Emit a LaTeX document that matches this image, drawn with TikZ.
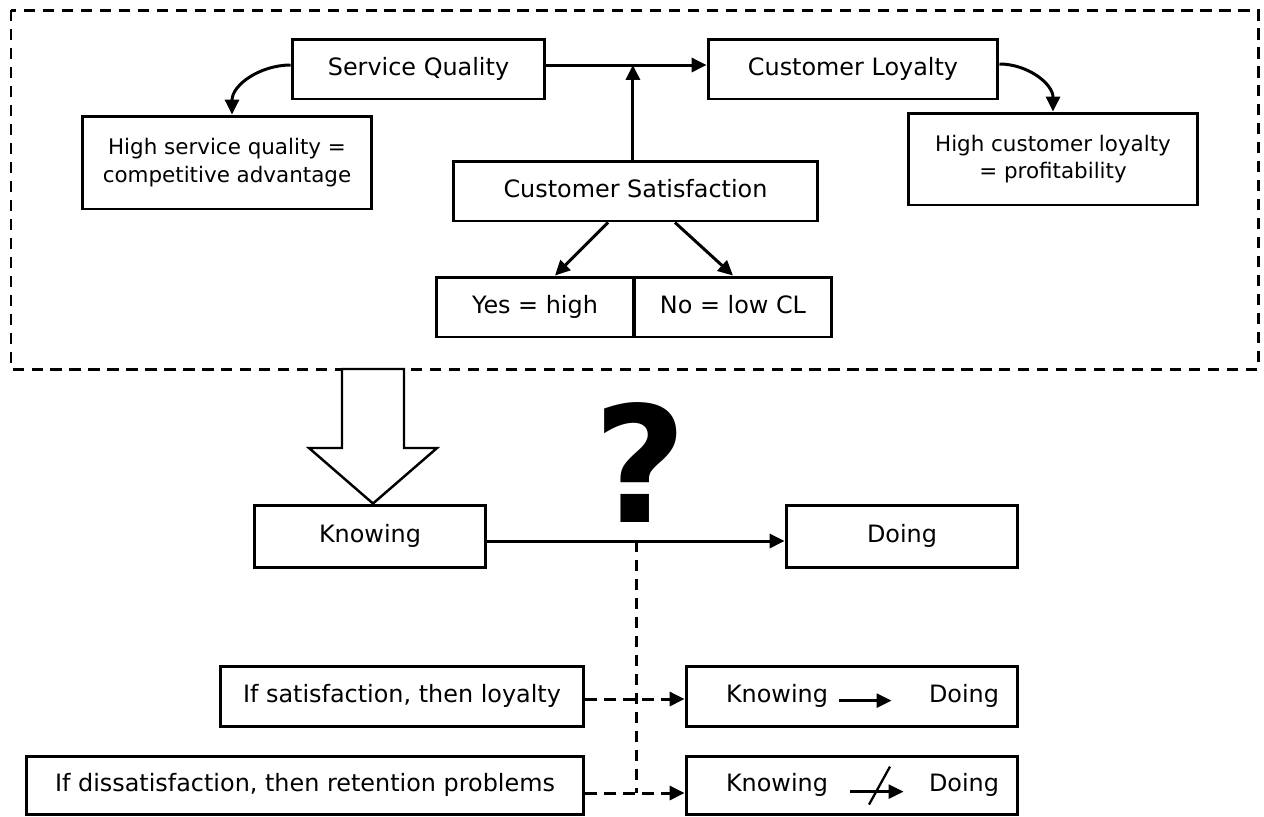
\documentclass[tikz,border=0pt]{standalone}
\usepackage{fontspec}
\setmainfont{DejaVu Sans}
\usetikzlibrary{arrows.meta}

\begin{document}
\begin{tikzpicture}[x=0.02cm, y=-0.02cm, line width=1.7pt,
        box/.style={draw, rectangle, inner sep=0pt, align=center, font=\fontsize{13.6}{16.5}\selectfont},
        oneline/.style={box, text height=9.9pt, text depth=2.6pt},
        smallbox/.style={box, font=\fontsize{12.2}{15.5}\selectfont},
        label/.style={inner sep=0pt, font=\fontsize{13.6}{16.5}\selectfont},
        tip/.style={-{Triangle[length=8.5pt,width=8pt]}},
        dashline/.style={dash pattern=on 6.4pt off 4.4pt}]
        \useasboundingbox (0,0) rectangle (1264,816);

        % upper block
        \draw [dashline] (11,10) rectangle (1258,369);
        \node[oneline, minimum width=5.06cm, minimum height=1.2cm] (quality) at (418.5,69) {Service Quality};
        \node[oneline, minimum width=5.8cm, minimum height=1.2cm] (loyalty) at (853,69) {Customer Loyalty};
        \node[smallbox, minimum width=5.8cm, minimum height=1.86cm] (advantage) at (227,162.5) {High service quality =\\competitive advantage};
        \node[smallbox, minimum width=5.8cm, minimum height=1.84cm] (profit) at (1053,159) {High customer loyalty\\= profitability};
        \node[oneline, minimum width=7.3cm, minimum height=1.2cm] (satisf) at (635.5,191) {Customer Satisfaction};
        \node[oneline, minimum width=3.96cm, minimum height=1.2cm] (yes) at (535,307) {Yes = high};
        \node[oneline, minimum width=3.96cm, minimum height=1.2cm] (no) at (733,307) {No = low CL};

        \draw [tip] ([yshift=0.08cm]quality.east) -- coordinate[pos=0.54] (join) ([yshift=0.08cm]loyalty.west);
        \draw [tip] (satisf.north -| join) -- (join);
        \draw [tip] ([yshift=0.08cm]quality.west) to[out=180, in=90] ([xshift=0.1cm]advantage.north);
        \draw [tip] ([yshift=0.1cm]loyalty.east) to[out=0, in=90] (profit.north);
        \draw [tip] ([xshift=-0.55cm]satisf.south) -- ([xshift=0.4cm]yes.north);
        \draw [tip] ([xshift=0.79cm]satisf.south) -- (no.north);

        % knowing and doing
        \node[oneline, minimum width=4.64cm, minimum height=1.24cm] (knowing) at (370,536) {Knowing};
        \node[oneline, minimum width=4.64cm, minimum height=1.24cm] (doing) at (902,536) {Doing};
        \draw [fill=white, line width=1.4pt] (342,369) -- (342,448) -- (309,448) -- ([xshift=0.06cm]knowing.north) -- (437,448) -- (404,448) -- (404,369) -- cycle;
        \node[anchor=base, inner sep=0pt, font=\fontsize{92}{92}\bfseries\selectfont] (query) at (640.5,522) {?};
        \draw [tip] ([yshift=-0.1cm]knowing.east) -- coordinate (split) ([yshift=-0.1cm]doing.west);

        % the two cases
        \node[oneline, minimum width=7.28cm, minimum height=1.2cm] (ifsat) at (402,696) {If satisfaction, then loyalty};
        \node[oneline, minimum width=11.16cm, minimum height=1.16cm] (ifdis) at (305,785) {If dissatisfaction, then retention problems};
        \node[box, minimum width=6.64cm, minimum height=1.2cm] (caseA) at (852,696) {};
        \node[box, minimum width=6.64cm, minimum height=1.16cm] (caseB) at (852,785) {};
        \node[label] (knowA) at (777,696) {Knowing};
        \node[label] (doA) at (964,696) {Doing};
        \node[label] (knowB) at (777,785) {Knowing};
        \node[label] (doB) at (964,785) {Doing};
        \draw [tip, line width=1.3pt] ([xshift=0.2cm, yshift=0.04cm]knowA.base east) -- ([xshift=-0.72cm, yshift=0.04cm]doA.base west);
        \draw [tip, line width=1.3pt] ([xshift=0.42cm]knowB.base east) -- coordinate (cut) ([xshift=-0.48cm]doB.base west);
        \draw [line width=1.3pt] (cut) ++(-8,13) -- ++(21,-38);

        \draw [dashline] (split) -- (split |- 0,793);
        \draw [dashline, tip] ([yshift=-0.06cm]ifsat.east) -- ([yshift=-0.06cm]caseA.west);
        \draw [dashline, tip] ([yshift=-0.16cm]ifdis.east) -- ([yshift=-0.16cm]caseB.west);

    \end{tikzpicture}
\end{document}
